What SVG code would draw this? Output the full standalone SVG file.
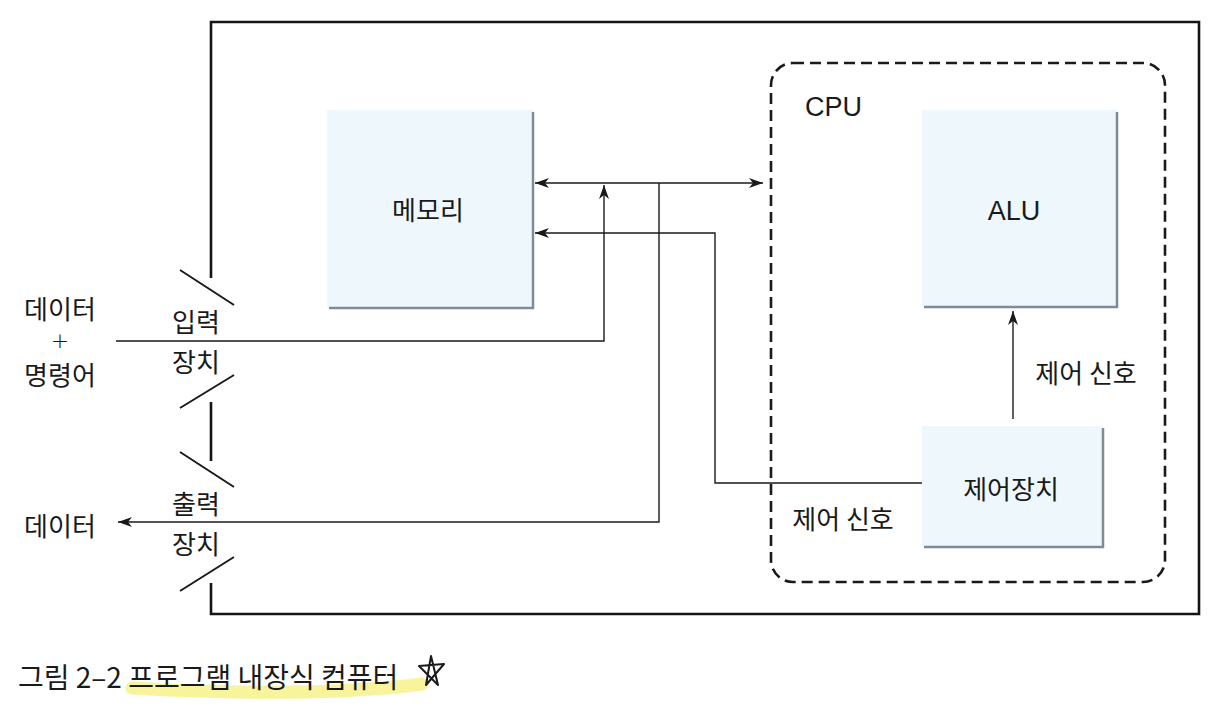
<svg xmlns="http://www.w3.org/2000/svg" width="1224" height="714" viewBox="0 0 1224 714">
<style>
text{font-family:"Noto Sans CJK KR","Noto Sans",sans-serif;fill:#1a1a1a;dominant-baseline:central}
.lbl{font-size:26px}
.lat{font-size:27px;font-family:"Liberation Sans","Noto Sans CJK KR",sans-serif}
.mid{text-anchor:middle}
.box{fill:#eef8fc}
.shadow{fill:none;stroke:#7f8c96;stroke-width:2.5}
.frame{fill:none;stroke:#141414;stroke-width:2.6}
.cpu{fill:none;stroke:#1a1a1a;stroke-width:2.6;stroke-dasharray:11 6}
.wire{fill:none;stroke:#1a1a1a;stroke-width:1.4}
.slash{stroke:#1a1a1a;stroke-width:2;fill:none}
</style>
<defs>
<marker id="ah" viewBox="0 0 14 10" refX="14" refY="5" markerWidth="14" markerHeight="10" markerUnits="userSpaceOnUse" orient="auto-start-reverse">
<path d="M0,0 L14,5 L0,10 L4,5 Z" fill="#1a1a1a"/>
</marker>
</defs>
<rect width="1224" height="714" fill="#ffffff"/>
<g id="frame">
<path class="frame" d="M211,278 L211,22 L1199,22 L1199,614 L211,614 L211,583"/>
<path class="frame" d="M211,402 L211,461"/>
<path class="slash" d="M180,270 L234,305 M180,408 L234,375 M180,452 L234,487 M180,591 L234,557"/>
</g>
<g id="cpu">
<rect class="cpu" x="771" y="63" width="394" height="519" rx="22"/>
<text class="lat" x="805" y="107">CPU</text>
</g>
<g id="memory">
<rect class="box" x="327" y="110" width="206" height="198"/>
<path class="shadow" d="M533,112 L533,308 L329,308"/>
<text class="lbl mid" x="428" y="208">메모리</text>
</g>
<g id="alu">
<rect class="box" x="922" y="110" width="195" height="197"/>
<path class="shadow" d="M1117,112 L1117,307 L924,307"/>
<text class="lat mid" x="1014" y="211">ALU</text>
</g>
<g id="control">
<rect class="box" x="922" y="426" width="181" height="121" fill="#e8f5fb"/>
<path class="shadow" d="M1103,428 L1103,547 L924,547"/>
<text class="lbl mid" x="1011" y="487">제어장치</text>
</g>
<g id="connectors">
<path class="wire" d="M535,183 L763,183" marker-start="url(#ah)" marker-end="url(#ah)"/>
<path class="wire" d="M116,341 L604,341 L604,185" marker-end="url(#ah)"/>
<path class="wire" d="M659,183 L659,522 L118,522" marker-end="url(#ah)"/>
<path class="wire" d="M922,483 L715,483 L715,233 L535,233" marker-end="url(#ah)"/>
<path class="wire" d="M1013,419 L1013,311" marker-end="url(#ah)"/>
</g>
<g id="labels">
<text class="lbl mid" x="60" y="307">데이터</text>
<text class="mid" x="60" y="340" style="font-size:22px;font-family:'DejaVu Sans',sans-serif;font-weight:200">+</text>
<text class="lbl mid" x="60" y="373">명령어</text>
<text class="lbl mid" x="196" y="320">입력</text>
<text class="lbl mid" x="196" y="360">장치</text>
<text class="lbl mid" x="196" y="502">출력</text>
<text class="lbl mid" x="196" y="542">장치</text>
<text class="lbl mid" x="60" y="524">데이터</text>
<text class="lbl mid" x="1086" y="371">제어 신호</text>
<text class="lbl mid" x="843" y="517">제어 신호</text>
</g>
<g id="caption">
<path d="M132,688 C220,693 330,696 422,684" stroke="#f6f07a" stroke-width="13" fill="none" stroke-linecap="round" opacity="0.75"/>
<text x="18" y="676" style="font-size:28px">그림 2–2 프로그램 내장식 컴퓨터</text>
<path d="M426,685 L431,656 L438,685 L419,666 L444,664 Z" fill="none" stroke="#1a1a1a" stroke-width="2" stroke-linejoin="round"/>
</g>
</svg>
